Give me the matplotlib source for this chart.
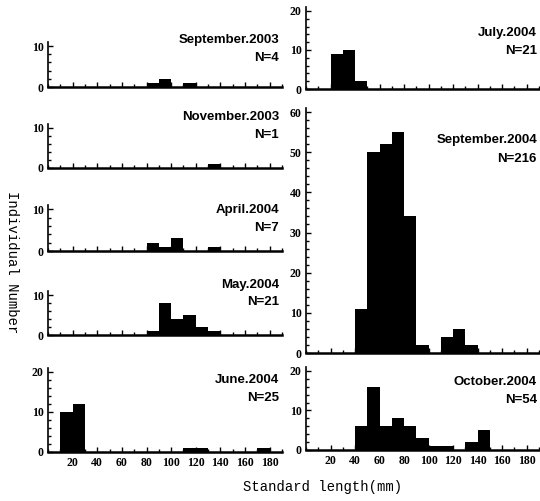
import matplotlib.pyplot as plt
from matplotlib.ticker import MultipleLocator

# left edges of the 10 mm length classes
bins = [0, 10, 20, 30, 40, 50, 60, 70, 80, 90, 100, 110, 120, 130, 140, 150, 160, 170]

sep03 = [0, 0, 0, 0, 0, 0, 0, 0, 1, 2, 0, 1, 0, 0, 0, 0, 0, 0]
nov03 = [0, 0, 0, 0, 0, 0, 0, 0, 0, 0, 0, 0, 0, 1, 0, 0, 0, 0]
apr04 = [0, 0, 0, 0, 0, 0, 0, 0, 2, 1, 3, 0, 0, 1, 0, 0, 0, 0]
may04 = [0, 0, 0, 0, 0, 0, 0, 0, 1, 8, 4, 5, 2, 1, 0, 0, 0, 0]
jun04 = [0, 10, 12, 0, 0, 0, 0, 0, 0, 0, 0, 1, 1, 0, 0, 0, 0, 1]
jul04 = [0, 0, 9, 10, 2, 0, 0, 0, 0, 0, 0, 0, 0, 0, 0, 0, 0, 0]
sep04 = [0, 0, 0, 0, 11, 50, 52, 55, 34, 2, 0, 4, 6, 2, 0, 0, 0, 0]
oct04 = [0, 0, 0, 0, 6, 16, 6, 8, 6, 3, 1, 1, 0, 2, 5, 0, 0, 0]

xticks = [20, 40, 60, 80, 100, 120, 140, 160, 180]

W, H = 540, 501
fig = plt.figure(figsize=(W / 100, H / 100), dpi=100)


def px_axes(x0, x1, y_bottom, y_top):
    # pixel box -> figure fraction
    return fig.add_axes([x0 / W, 1 - y_bottom / H, (x1 - x0) / W, (y_bottom - y_top) / H])


def px_text(x, y, s, **kw):
    fig.text(x / W, 1 - y / H, s, ha='right', va='center', fontsize=9.5,
             fontweight='bold', family='Liberation Sans', **kw)


def panel(ax, counts, ymax, yticks, xlabels):
    ax.bar(bins, counts, width=10, align='edge', color='black', linewidth=0)
    ax.set_xlim(0, 190)
    ax.set_ylim(0, ymax)
    ax.set_yticks(yticks)
    ax.yaxis.set_minor_locator(MultipleLocator(2))
    ax.set_xticks(xticks)
    ax.xaxis.set_minor_locator(MultipleLocator(10))
    for s in ['top', 'right']:
        ax.spines[s].set_visible(False)
    ax.spines['left'].set_linewidth(1.2)
    ax.spines['bottom'].set_linewidth(1.8)
    ax.tick_params(which='both', direction='in', width=1)
    ax.tick_params(which='major', length=3.5)
    ax.tick_params(which='minor', length=2)
    ax.tick_params(axis='y', pad=3)
    if not xlabels:
        ax.set_xticklabels([])
    for lab in ax.get_xticklabels() + ax.get_yticklabels():
        lab.set_fontfamily('Liberation Serif')
        lab.set_fontweight('bold')
        lab.set_fontsize(8.5)


lx0, lx1 = 48, 282
rx0, rx1 = 306, 539

panel(px_axes(lx0, lx1, 87, 42), sep03, 11, [0, 10], False)
px_text(279, 40, 'September.2003')
px_text(279, 58, 'N=4')

panel(px_axes(lx0, lx1, 168, 124), nov03, 11, [0, 10], False)
px_text(279, 117, 'November.2003')
px_text(279, 135, 'N=1')

panel(px_axes(lx0, lx1, 251, 205), apr04, 11, [0, 10], False)
px_text(279, 210, 'April.2004')
px_text(279, 228, 'N=7')

panel(px_axes(lx0, lx1, 335, 291), may04, 11, [0, 10], False)
px_text(279, 285, 'May.2004')
px_text(279, 302, 'N=21')

panel(px_axes(lx0, lx1, 452, 368), jun04, 21, [0, 10, 20], True)
px_text(279, 380, 'June.2004')
px_text(279, 398, 'N=25')

panel(px_axes(rx0, rx1, 89, 7), jul04, 21, [0, 10, 20], False)
px_text(537, 33, 'July.2004')
px_text(537, 51, 'N=21')

panel(px_axes(rx0, rx1, 353, 108), sep04, 61, [0, 10, 20, 30, 40, 50, 60], False)
px_text(537, 140, 'September.2004')
px_text(537, 159, 'N=216')

panel(px_axes(rx0, rx1, 450, 367), oct04, 21, [0, 10, 20], True)
px_text(537, 382, 'October.2004')
px_text(537, 400, 'N=54')

fig.text(12 / W, 1 - 262 / H, 'Individual Number', rotation=-90, ha='center', va='center',
         family='Liberation Mono', fontsize=10)
fig.text(323 / W, 1 - 487 / H, 'Standard length(mm)', ha='center', va='center',
         family='Liberation Mono', fontsize=10)

fig.savefig('out.png', dpi=100)
